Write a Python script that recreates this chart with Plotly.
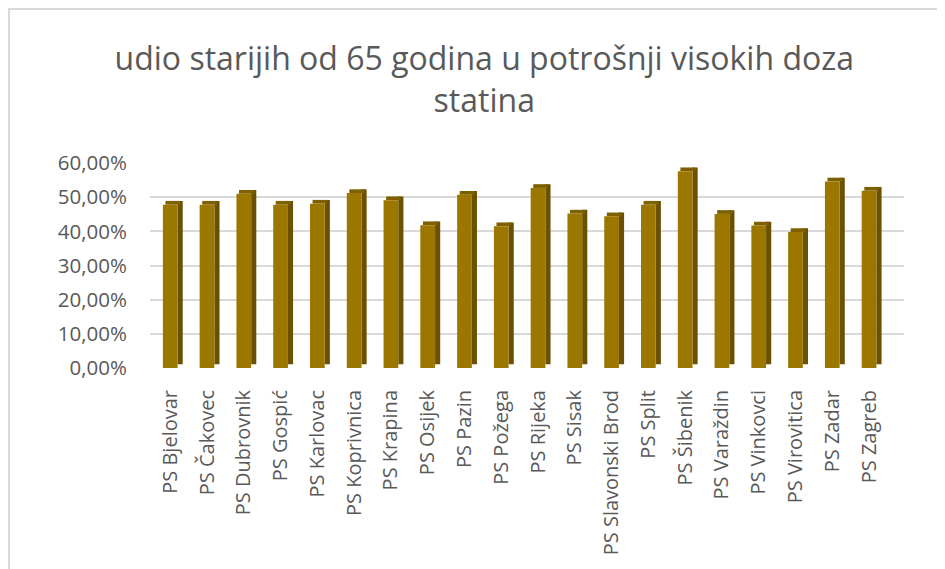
import plotly.graph_objects as go

categories = ["PS Bjelovar", "PS Čakovec", "PS Dubrovnik", "PS Gospić", "PS Karlovac",
              "PS Koprivnica", "PS Krapina", "PS Osijek", "PS Pazin", "PS Požega",
              "PS Rijeka", "PS Sisak", "PS Slavonski Brod", "PS Split", "PS Šibenik",
              "PS Varaždin", "PS Vinkovci", "PS Virovitica", "PS Zadar", "PS Zagreb"]
values = [0.478, 0.478, 0.510, 0.478, 0.481, 0.512, 0.491, 0.418, 0.507, 0.415,
          0.527, 0.452, 0.444, 0.478, 0.576, 0.451, 0.417, 0.398, 0.546, 0.519]
tick_vals = [0, 0.1, 0.2, 0.3, 0.4, 0.5, 0.6]

depth = 0.011  # visual depth of 3D-like columns (in axis units)

front_col = "#9C7700"
side_col = "#6A5000"
top_col = "#7E6000"
text_col = "#595959"

fig = go.Figure()
# side face
fig.add_trace(go.Bar(x=categories, y=values, base=[depth] * len(values),
                     width=0.14, offset=0.2, marker=dict(color=side_col, line=dict(width=0)),
                     hoverinfo="skip", showlegend=False))
# top face
fig.add_trace(go.Bar(x=categories, y=[depth] * len(values), base=values,
                     width=0.4, offset=-0.13, marker=dict(color=top_col, line=dict(width=0)),
                     hoverinfo="skip", showlegend=False))
# front face
fig.add_trace(go.Bar(x=categories, y=values, width=0.4, offset=-0.2,
                     marker=dict(color=front_col, line=dict(width=0)),
                     name="udio", showlegend=False))

L, R, T, B = 142, 49, 155, 209
plot_w = 945 - L - R
plot_h = 569 - T - B

fig.update_layout(
    width=945, height=569,
    barmode="overlay",
    separators=", ",
    paper_bgcolor="white", plot_bgcolor="white",
    font=dict(family="Open Sans, Liberation Sans, sans-serif", color=text_col),
    title=dict(text="udio starijih od 65 godina u potrošnji visokih doza<br>statina",
               x=0.504, xanchor="center", y=0.891, yanchor="top",
               font=dict(size=32, color=text_col)),
    margin=dict(l=L, r=R, t=T, b=B),
    xaxis=dict(type="category", range=[-0.55, 19.95], showgrid=False, showline=False,
               zeroline=False, tickangle=-90, tickfont=dict(size=20, color=text_col),
               ticks="", ticklabelstandoff=17),
    yaxis=dict(range=[0, 0.6], tickvals=tick_vals, tickformat=".2%",
               gridcolor="#D9D9D9", gridwidth=1.5, zeroline=False, showline=False,
               tickfont=dict(size=20.5, color=text_col), ticklabelstandoff=22),
    shapes=[dict(type="rect", xref="paper", yref="paper",
                 x0=(1 - L) / plot_w, x1=1.3, y0=-1.5, y1=(plot_h + T - 1) / plot_h,
                 line=dict(color="#D9D9D9", width=2), fillcolor="rgba(0,0,0,0)", layer="below")],
)

fig.write_html("out.html")
